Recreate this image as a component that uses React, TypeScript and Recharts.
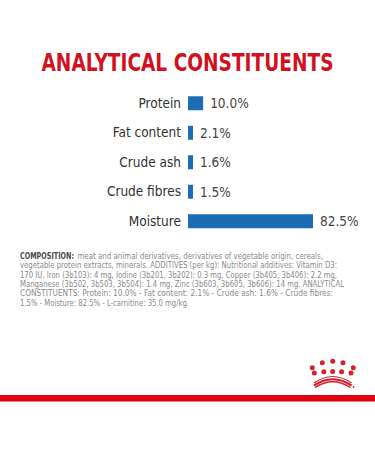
import React from 'react';
import { BarChart, Bar, XAxis, YAxis, LabelList } from 'recharts';

const title = 'ANALYTICAL CONSTITUENTS';
const categories = ['Protein', 'Fat content', 'Crude ash', 'Crude fibres', 'Moisture'];
const values = [10.0, 2.1, 1.6, 1.5, 82.5];
const compositionLead = 'COMPOSITION:';
const compositionLines = [
  'meat and animal derivatives, derivatives of vegetable origin, cereals,',
  'vegetable protein extracts, minerals. ADDITIVES (per kg): Nutritional additives: Vitamin D3:',
  '170 IU, Iron (3b103): 4 mg, Iodine (3b201, 3b202): 0.3 mg, Copper (3b405, 3b406): 2.2 mg,',
  'Manganese (3b502, 3b503, 3b504): 1.4 mg, Zinc (3b603, 3b605, 3b606): 14 mg. ANALYTICAL',
  'CONSTITUENTS: Protein: 10.0% - Fat content: 2.1% - Crude ash: 1.6% - Crude fibres:',
  '1.5% - Moisture: 82.5% - L-carnitine: 35.0 mg/kg.',
];
const lineStarts = [77.5, 20, 20, 20, 20, 20];
const lineWidths = [245.5, 317, 317, 324, 313, 169];

const data = categories.map((name, i) => ({ name, value: values[i] }));

const FONT = '"DejaVu Sans Condensed", "Liberation Sans Narrow", Roboto, sans-serif';

const topDots = [
  [312.3, 367.7], [322.3, 362.7], [332.7, 361.3], [343, 362.7], [353.3, 367.7],
];
const lowDots = [
  [314.3, 373], [323.8, 371.8], [332.7, 371.5], [341.6, 371.8], [351, 373],
];

export default function App() {
  return (
    <div style={{ position: 'absolute', left: 0, top: 0, width: 375, height: 450, background: '#fff', overflow: 'hidden' }}>
      <svg width={375} height={450} style={{ position: 'absolute', left: 0, top: 0 }}>
        <text
          x={187.5}
          y={71}
          textAnchor="middle"
          fontFamily={FONT}
          fontWeight={700}
          fontSize={24}
          fill="#d0121f"
          textLength={292}
          lengthAdjust="spacingAndGlyphs"
        >
          {title}
        </text>
        <text
          x={20}
          y={259}
          fontFamily={FONT}
          fontSize={8.6}
          fontWeight={700}
          fill="#4a4a4a"
          textLength={54}
          lengthAdjust="spacingAndGlyphs"
        >
          {compositionLead}
        </text>
        {compositionLines.map((line, i) => (
          <text
            key={i}
            x={lineStarts[i]}
            y={259 + i * 9.3}
            fontFamily={FONT}
            fontSize={8.6}
            fill="#8a8a8a"
            textLength={lineWidths[i]}
            lengthAdjust="spacingAndGlyphs"
          >
            {line}
          </text>
        ))}
        {topDots.concat(lowDots).map(([cx, cy], i) => (
          <circle key={i} cx={cx} cy={cy} r={2.5} fill="#d3202c" />
        ))}
        <path d="M314 383 Q332.7 370 351.5 383" stroke="#d3202c" strokeWidth={1.2} fill="none" />
        <path d="M314 385.5 Q332.7 373 351.5 385.5" stroke="#d3202c" strokeWidth={2.2} fill="none" />
        <path d="M315 387.5 Q332.7 376 350.5 387.5" stroke="#d3202c" strokeWidth={1.4} fill="none" />
        <circle cx={353.5} cy={387} r={0.9} fill="#d3202c" />
        <rect x={0} y={395} width={375} height={6.5} fill="#e1000f" />
      </svg>
      <div style={{ position: 'absolute', left: 0, top: 0 }}>
        <BarChart
          width={375}
          height={260}
          data={data}
          layout="vertical"
          margin={{ top: 88.25, bottom: 24.25, left: 0, right: 35.5 }}
        >
          <XAxis type="number" domain={[0, 100]} hide />
          <YAxis
            type="category"
            dataKey="name"
            width={188}
            axisLine={false}
            tickLine={false}
            tickSize={0}
            tickMargin={7}
            tick={{ fill: '#333333', fontSize: 13.5, fontFamily: FONT, fontWeight: 500 }}
          />
          <Bar dataKey="value" fill="#1b6db5" barSize={14} minPointSize={5} isAnimationActive={false}>
            <LabelList
              dataKey="value"
              position="right"
              offset={7}
              formatter={(v: number) => `${Number(v).toFixed(1)}%`}
              style={{ fill: '#444444', fontSize: 13.5, fontFamily: FONT }}
            />
          </Bar>
        </BarChart>
      </div>
    </div>
  );
}
